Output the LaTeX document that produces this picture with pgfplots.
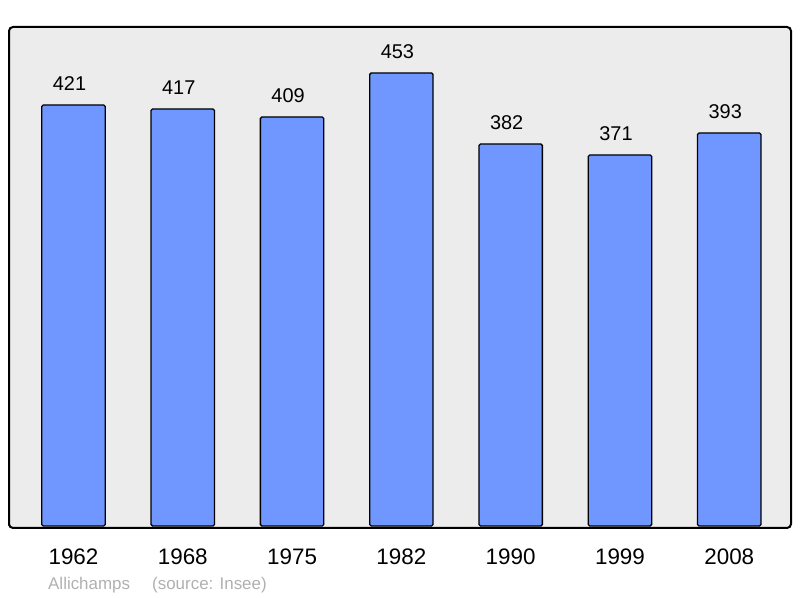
\documentclass[border=0pt]{standalone}
\usepackage{pgfplots}
\pgfplotsset{compat=1.18}
\usepackage{fontspec}
\setmainfont{Liberation Sans}
\definecolor{barblue}{HTML}{7096FF}
\definecolor{bg}{HTML}{ECECEC}
\definecolor{foot}{HTML}{B0B0B0}
\begin{document}
\begin{tikzpicture}[x=1bp,y=1bp]
\useasboundingbox (0,0) rectangle (800,598);
\begin{axis}[
  at={(9bp,70bp)}, anchor=south west,
  scale only axis, width=782bp, height=501bp,
  xmin=-0.59, xmax=6.565, ymin=-2, ymax=499,
  /pgf/number format/assume math mode=true,
  axis background/.style={fill=bg},
  axis line style={line width=2bp, rounded corners=4bp},
  ytick=\empty,
  xtick=data,
  xticklabels={1962,1968,1975,1982,1990,1999,2008},
  xtick style={draw=none},
  xticklabel style={font=\fontsize{22.5}{22.5}\selectfont, anchor=base, inner sep=0pt, yshift=-32bp},
  ybar, bar width=0.58,
  nodes near coords={\pgfmathprintnumber[assume math mode=true]{\pgfplotspointmeta}},
  every node near coord/.append style={font=\fontsize{20}{20}\selectfont, anchor=base, inner sep=0pt, yshift=14bp, xshift=-4bp},
  clip=false,
]
\addplot[draw=black, line width=1.3bp, fill=barblue, rounded corners=1.5bp] coordinates {
(0,421) (1,417) (2,409) (3,453) (4,382) (5,371) (6,393)};
\end{axis}
\node[anchor=base west, text=foot, font=\fontsize{17}{17}\selectfont, inner sep=0pt] at (48,8) {Allichamps};
\node[anchor=base west, text=foot, font=\fontsize{17}{17}\selectfont, inner sep=0pt] at (152,8) {(source: Insee)};
\end{tikzpicture}
\end{document}
